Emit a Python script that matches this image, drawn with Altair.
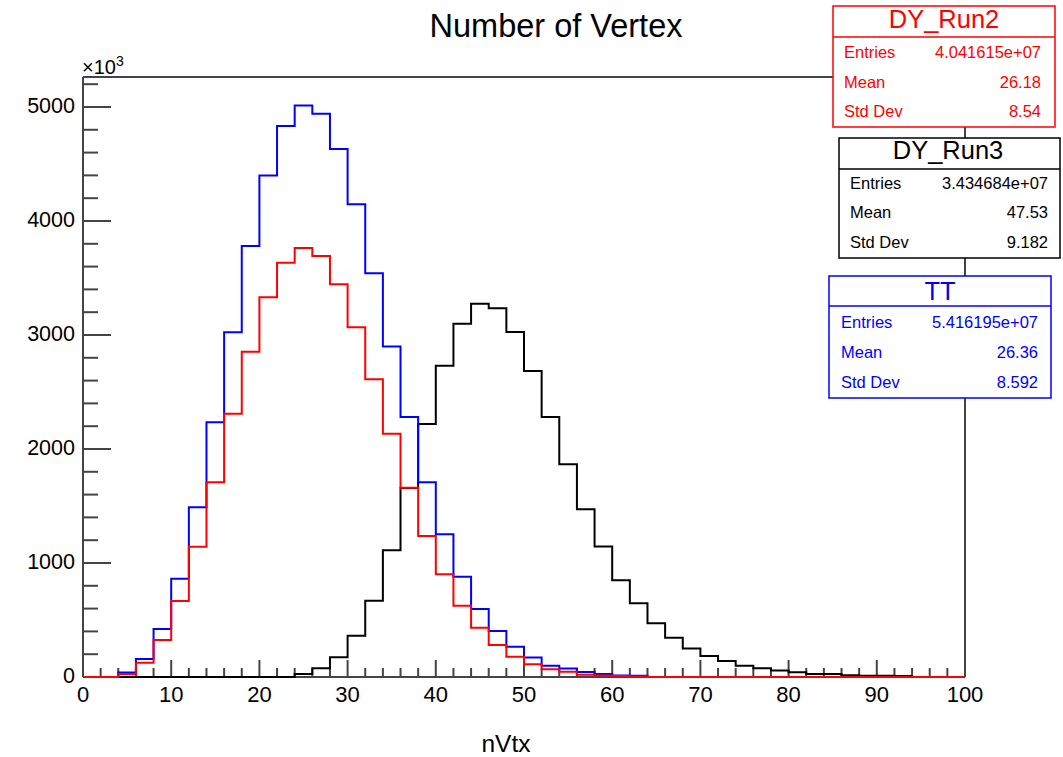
import altair as alt
import pandas as pd

FONT = "Liberation Sans"

# ---------------- data (values in units of 10^3, bin width 2) ----------------
bin_lo = [0, 2, 4, 6, 8, 10, 12, 14, 16, 18, 20, 22, 24, 26, 28, 30, 32, 34, 36, 38,
          40, 42, 44, 46, 48, 50, 52, 54, 56, 58, 60, 62, 64, 66, 68, 70, 72, 74, 76, 78,
          80, 82, 84, 86, 88, 90, 92, 94, 96, 98]
x_max = 100

tt = [0, 0, 40, 158, 421, 862, 1488, 2234, 3024, 3781,
      4398, 4833, 5012, 4941, 4632, 4146, 3541, 2900, 2281, 1708,
      1252, 880, 596, 404, 266, 170, 99, 75, 44, 27,
      14, 10, 0, 0, 0, 0, 0, 0, 0, 0,
      0, 0, 0, 0, 0, 0, 0, 0, 0, 0]

dy_run2 = [0, 0, 26, 126, 325, 667, 1143, 1708, 2310, 2854,
           3330, 3634, 3763, 3693, 3444, 3068, 2611, 2134, 1661, 1237,
           901, 626, 433, 281, 178, 111, 67, 45, 20, 14,
           9, 5, 0, 0, 0, 0, 0, 0, 0, 0,
           0, 0, 0, 0, 0, 0, 0, 0, 0, 0]

dy_run3 = [0, 0, 0, 0, 0, 0, 0, 0, 0, 0,
           0, 0, 26, 76, 173, 361, 668, 1111, 1658, 2219,
           2731, 3099, 3275, 3234, 3026, 2684, 2281, 1866, 1471, 1145,
           848, 646, 471, 345, 251, 184, 140, 99, 76, 56,
           41, 26, 26, 15, 10, 10, 8, 0, 0, 0]

series_names = ["DY_Run2", "DY_Run3", "TT"]
series_colors = ["#ff0000", "#000000", "#0000ff"]
stat_labels = ["Entries", "Mean", "Std Dev"]
stat_entries = ["4.041615e+07", "3.434684e+07", "5.416195e+07"]
stat_means = ["26.18", "47.53", "26.36"]
stat_stds = ["8.54", "9.182", "8.592"]

x_major = [0, 10, 20, 30, 40, 50, 60, 70, 80, 90, 100]
x_major_labels = ["0", "10", "20", "30", "40", "50", "60", "70", "80", "90", "100"]
y_major = [0, 1000, 2000, 3000, 4000, 5000]
y_major_labels = ["0", "1000", "2000", "3000", "4000", "5000"]
y_top = 5263

# ---------------- layout ----------------
W, H = 882, 600
xs = alt.Scale(domain=[0, x_max], nice=False, zero=False)
ys = alt.Scale(domain=[0, y_top], nice=False, zero=True)
one = pd.DataFrame({"a": [0]})
FRAME = "#444444"


def hist_df(vals):
    xs_ = list(bin_lo) + [x_max]
    ys_ = list(vals) + [vals[-1]]
    return pd.DataFrame({"x": xs_, "y": ys_})


def hist_layer(vals, color):
    return alt.Chart(hist_df(vals)).mark_line(
        interpolate="step-after", color=color, strokeWidth=2
    ).encode(
        x=alt.X("x:Q", scale=xs, axis=None),
        y=alt.Y("y:Q", scale=ys, axis=None),
    )


def rule_px(x1, x2, y1, y2, color=FRAME, w=2):
    return alt.Chart(one).mark_rule(color=color, strokeWidth=w).encode(
        x=alt.value(x1), x2=alt.value(x2), y=alt.value(y1), y2=alt.value(y2)
    )


def text_px(s, x, y, size, color="#000000", align="left", baseline="alphabetic"):
    return alt.Chart(one).mark_text(
        text=s, font=FONT, fontSize=size, color=color, align=align, baseline=baseline
    ).encode(x=alt.value(x), y=alt.value(y))


def box_px(x1, x2, y1, y2, color):
    return alt.Chart(one).mark_rect(fill="white", stroke=color, strokeWidth=1.5).encode(
        x=alt.value(x1), x2=alt.value(x2), y=alt.value(y1), y2=alt.value(y2)
    )


layers = []

# frame
layers.append(rule_px(0, W, 0, 0))
layers.append(rule_px(W, W, 0, H))
layers.append(rule_px(0, 0, 0, H))
layers.append(rule_px(0, W, H, H))

# ticks (drawn inward)
y_minor = [v for v in range(200, y_top, 200) if v % 1000 != 0]
x_minor = [v for v in range(2, x_max, 2) if v % 10 != 0]

layers.append(alt.Chart(pd.DataFrame({"v": y_major})).mark_rule(color=FRAME, strokeWidth=2).encode(
    y=alt.Y("v:Q", scale=ys, axis=None), x=alt.value(0), x2=alt.value(28)))
layers.append(alt.Chart(pd.DataFrame({"v": y_minor})).mark_rule(color=FRAME, strokeWidth=2).encode(
    y=alt.Y("v:Q", scale=ys, axis=None), x=alt.value(0), x2=alt.value(15)))
layers.append(alt.Chart(pd.DataFrame({"v": x_major})).mark_rule(color=FRAME, strokeWidth=2).encode(
    x=alt.X("v:Q", scale=xs, axis=None), y=alt.value(H), y2=alt.value(H - 17)))
layers.append(alt.Chart(pd.DataFrame({"v": x_minor})).mark_rule(color=FRAME, strokeWidth=2).encode(
    x=alt.X("v:Q", scale=xs, axis=None), y=alt.value(H), y2=alt.value(H - 9)))

# tick labels
layers.append(alt.Chart(pd.DataFrame({"v": x_major, "t": x_major_labels})).mark_text(
    font=FONT, fontSize=22, color="#000000", align="center", baseline="alphabetic"
).encode(x=alt.X("v:Q", scale=xs, axis=None), y=alt.value(H + 25), text="t:N"))
layers.append(alt.Chart(pd.DataFrame({"v": y_major, "t": y_major_labels})).mark_text(
    font=FONT, fontSize=21.5, color="#000000", align="right", baseline="middle"
).encode(y=alt.Y("v:Q", scale=ys, axis=None), x=alt.value(-8), text="t:N"))

# histograms
layers.append(hist_layer(dy_run3, "#000000"))
layers.append(hist_layer(tt, "#0000ff"))
layers.append(hist_layer(dy_run2, "#ff0000"))

# titles
layers.append(text_px("Number of Vertex", 473, -40, 32.5, align="center"))
layers.append(text_px("nVtx", 423, 675, 24.5, align="center"))
layers.append(text_px("\u00d710", -1, -3, 20))
layers.append(text_px("3", 33, -11, 14))

# stat boxes: (x1, x2, y1, y2, sep_y, title_x, title_y, left_x, right_x, row_ys)
box_geo = [
    (750, 972, -71, 50, -40, 861, -49, 761, 958, [-19, 11, 40]),
    (756, 977, 61, 181, 92, 865, 82, 767, 965, [112, 141, 171]),
    (746, 968, 199, 321, 229, 857, 223, 758, 955, [251, 281, 311]),
]
for i, (x1, x2, y1, y2, sy, tx, ty, lx, rx, rows) in enumerate(box_geo):
    c = series_colors[i]
    layers.append(box_px(x1, x2, y1, y2, c))
    layers.append(rule_px(x1, x2, sy, sy, color=c, w=1.5))
    layers.append(text_px(series_names[i], tx, ty, 25.5, color=c, align="center"))
    vals = [stat_entries[i], stat_means[i], stat_stds[i]]
    for j in range(3):
        layers.append(text_px(stat_labels[j], lx, rows[j], 16.5, color=c))
        layers.append(text_px(vals[j], rx, rows[j], 16.5, color=c, align="right"))

chart = alt.layer(*layers).properties(
    width=W,
    height=H,
    autosize=alt.AutoSizeParams(type="none"),
    padding={"left": 83, "top": 77, "right": 98, "bottom": 80},
    background="white",
).configure_view(stroke=None)

chart.save("out.html", embed_options={"renderer": "svg", "actions": False})
